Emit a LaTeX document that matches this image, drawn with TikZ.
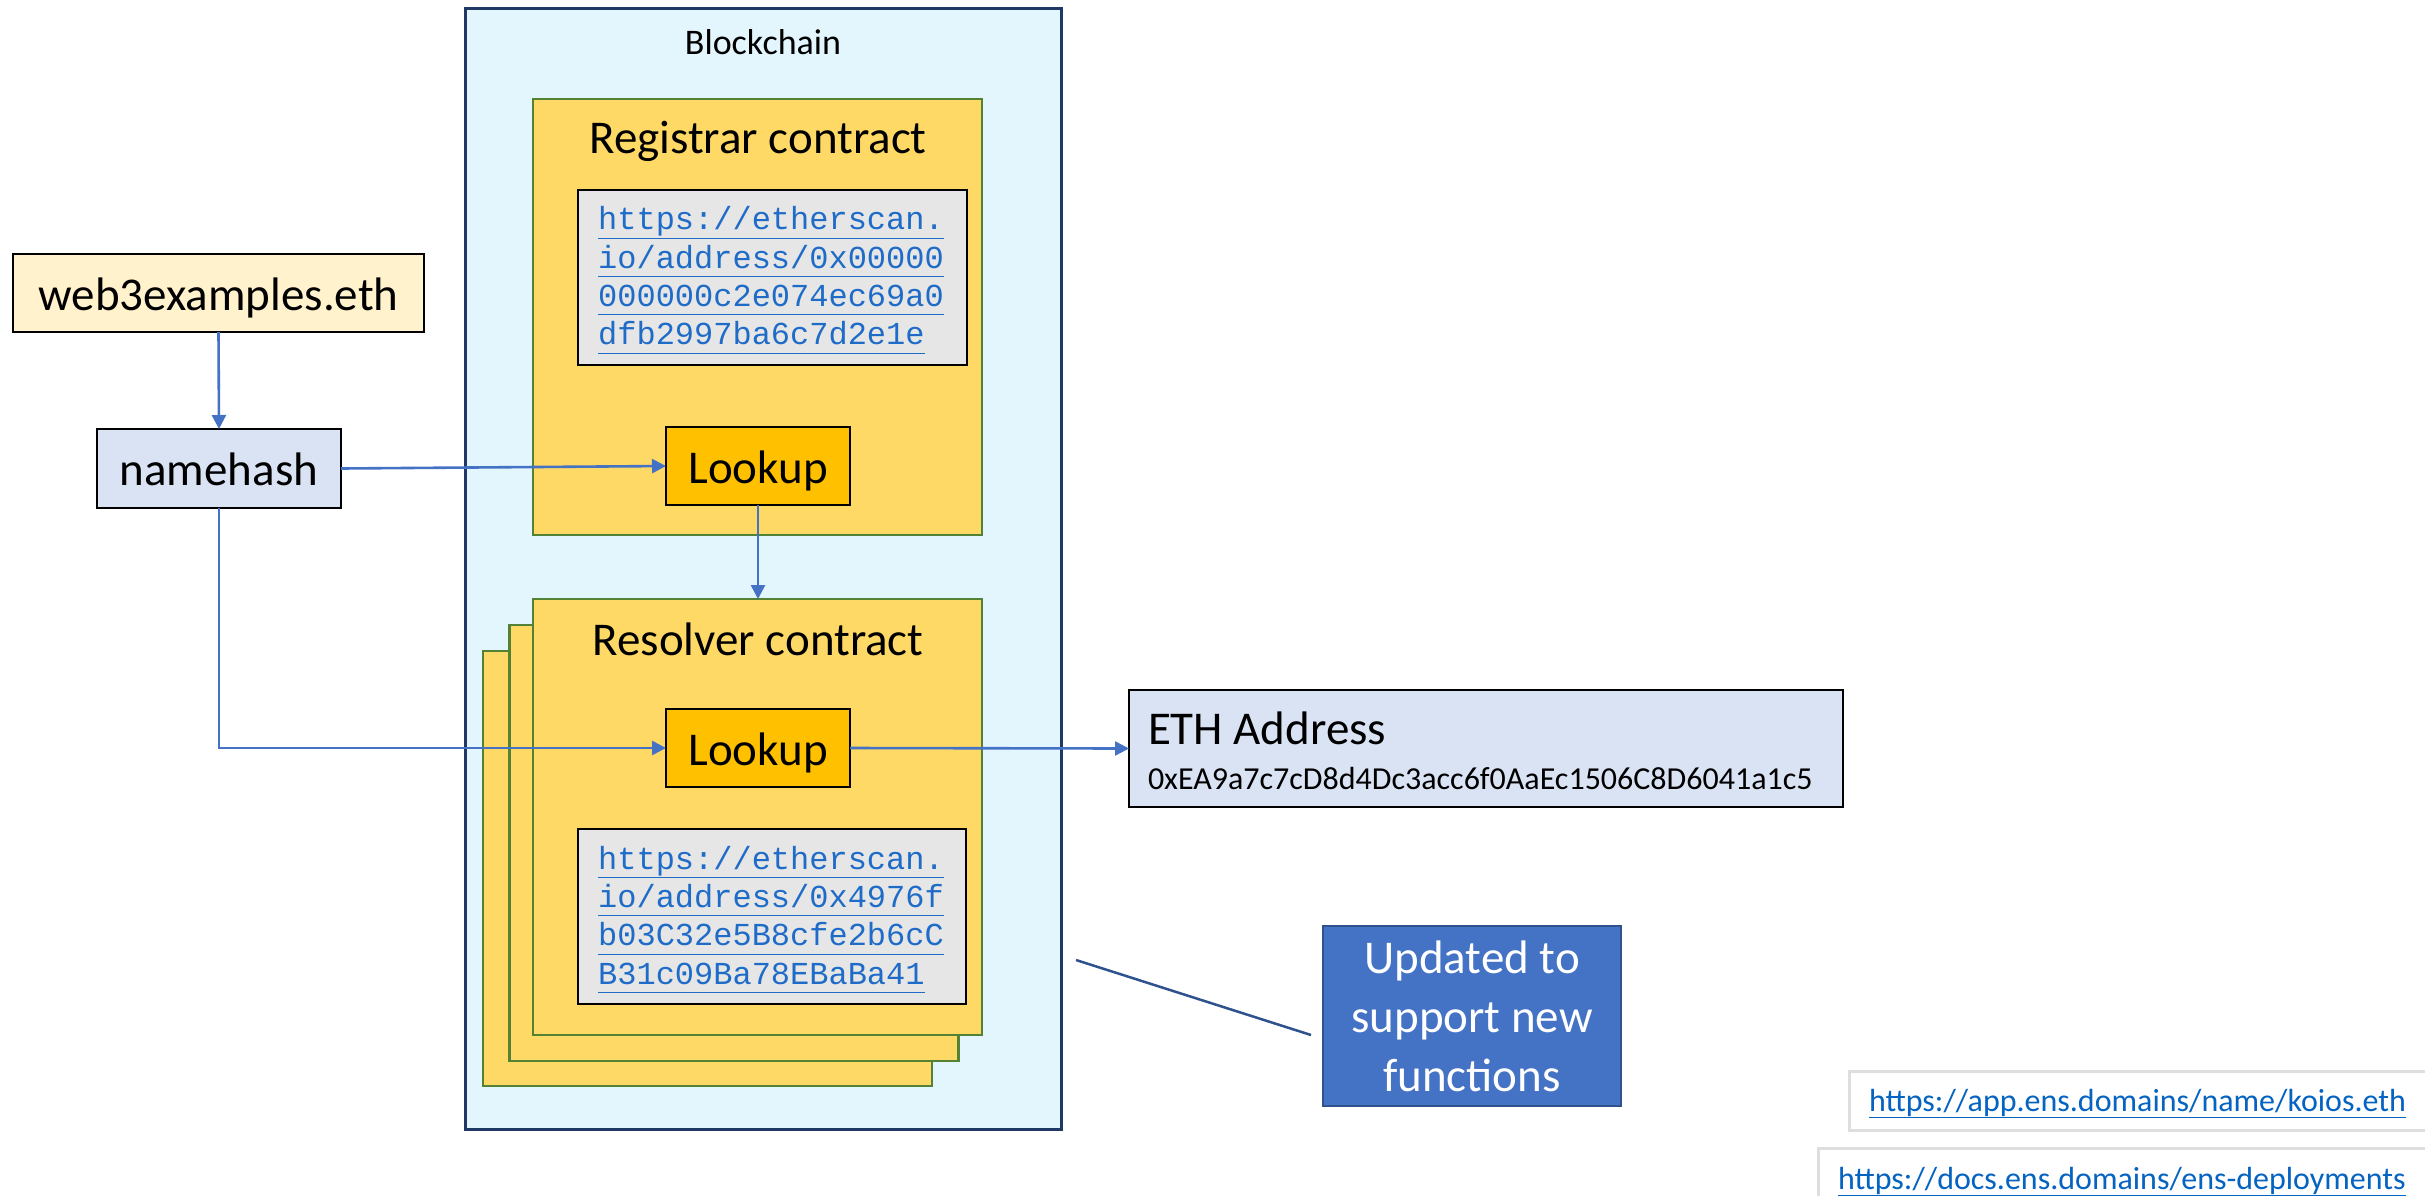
\documentclass[tikz,border=0pt]{standalone}
\usepackage{fontspec}
\setmainfont{Carlito}
\newfontfamily\urlmono{Liberation Mono}
\usetikzlibrary{arrows.meta}
\definecolor{bcfill}{HTML}{E3F5FD}
\definecolor{bcdraw}{HTML}{1F3864}
\definecolor{ctfill}{HTML}{FFD966}
\definecolor{ctdraw}{HTML}{548235}
\definecolor{urlfill}{HTML}{E6E6E6}
\definecolor{lkfill}{HTML}{FFC000}
\definecolor{namefill}{HTML}{FFF2CC}
\definecolor{hashfill}{HTML}{DAE3F3}
\definecolor{arrowblue}{HTML}{4472C4}
\definecolor{upddraw}{HTML}{2F528F}
\definecolor{linkblue}{HTML}{0563C1}
\definecolor{urlblue}{HTML}{1F6CC8}
\definecolor{lightframe}{HTML}{DEDEDE}
\begin{document}
\begin{tikzpicture}[x=1pt,y=-1pt,
  every node/.style={inner sep=0pt, outer sep=0pt},
  frame/.style={draw, rectangle, line width=2pt},
  contract/.style={frame, draw=ctdraw, line width=2.5pt, fill=ctfill, minimum width=449, minimum height=436},
  urlbox/.style={frame, draw=black, fill=urlfill, minimum width=389, minimum height=175},
  urltext/.style={align=left, text=urlblue, font=\urlmono\fontsize{32}{38.3}\selectfont},
  lookbox/.style={frame, fill=lkfill, minimum width=184, minimum height=78, big},
  big/.style={font=\fontsize{47}{56}\selectfont, text height=35pt, text depth=1pt},
  mid/.style={font=\fontsize{36}{43}\selectfont, text height=27pt, text depth=1pt},
  small/.style={font=\fontsize{32}{38}\selectfont, text height=24pt, text depth=1pt},
  linktext/.style={font=\fontsize{32}{38}\selectfont, text=linkblue},
  arr/.style={draw=arrowblue, line width=2.6pt, -{Triangle[length=14pt,width=14pt]}},
]
\clip (0,0) rectangle (2425,1195);
\fill[white] (0,0) rectangle (2425,1195);

% Blockchain container
\node[frame, draw=bcdraw, line width=3pt, fill=bcfill, minimum width=596, minimum height=1121] (bc) at (763,568.5) {};
\node[mid] (bclabel) at (763,41) {Blockchain};

% Registrar contract
\node[contract] (reg) at (757.5,317) {};
\node[big] (regtitle) at (758,136) {Registrar contract};
\node[urlbox] (regurl) at (772.5,277.5) {};
\node[urltext] (regurltext) at (771,280) {\underline{\vphantom{p}https://etherscan.}\\\underline{\vphantom{p}io/address/0x00000}\\\underline{\vphantom{p}000000c2e074ec69a0}\\\underline{\vphantom{p}dfb2997ba6c7d2e1e}};
\node[lookbox] (reglook) at (758,466) {Lookup};

% Resolver contracts (stack)
\node[contract, minimum height=435] (res3) at (707.5,868.5) {};
\node[contract] (res2) at (734,843) {};
\node[contract] (res1) at (757.5,817) {};
\node[big] (restitle) at (758,638) {Resolver contract};
\node[lookbox] (reslook) at (758,748) {Lookup};
\node[urlbox, minimum width=388] (resurl) at (772,916.5) {};
\node[urltext] (resurltext) at (771,919.5) {\underline{\vphantom{p}https://etherscan.}\\\underline{\vphantom{p}io/address/0x4976f}\\\underline{\vphantom{p}b03C32e5B8cfe2b6cC}\\\underline{\vphantom{p}B31c09Ba78EBaBa41}};

% Left side
\node[frame, fill=namefill, minimum width=411, minimum height=78, big] (web3) at (218.5,293) {web3examples.eth};
\node[frame, fill=hashfill, minimum width=244, minimum height=79, big] (namehash) at (219,468.5) {namehash};

% ETH Address
\node[frame, fill=hashfill, minimum width=714, minimum height=117] (eth) at (1486,748.5) {};
\node[big, anchor=west] (ethtitle) at (1148,727.5) {ETH Address};
\node[small, anchor=west] (ethhex) at (1148,777.5) {0xEA9a7c7cD8d4Dc3acc6f0AaEc1506C8D6041a1c5};

% Updated note
\node[frame, draw=upddraw, fill=arrowblue, minimum width=298, minimum height=180, align=center, text=white, font=\fontsize{47}{59}\selectfont] (upd) at (1472,1016) {Updated to\\support new\\functions};
\coordinate (n1) at (1076,960);
\coordinate (n2) at (1311,1035);
\draw[draw=upddraw, line width=2.5pt] (n1) -- (n2);

% Link boxes
\node[frame, draw=lightframe, line width=3pt, fill=white, minimum width=591, minimum height=59] (link1) at (2144.5,1100.5) {};
\node[linktext, anchor=base west] (link1text) at (1869,1111) {\underline{https://app.ens.domains/name/koios.eth}};
\node[frame, draw=lightframe, line width=3pt, fill=white, minimum width=622, minimum height=67] (link2) at (2129,1181.5) {};
\node[linktext, anchor=base west] (link2text) at (1838,1189) {\underline{https://docs.ens.domains/ens-deployments}};

% Connectors
\draw[arr] (web3.south) -- (namehash.north);
\draw[arr] (namehash.east) -- (reglook.west);
\draw[arr] (namehash.south) |- (reslook.west);
\draw[arr] (reglook.south) -- (reglook.south |- res1.north);
\draw[arr] (reslook.east) -- (eth.west);
\end{tikzpicture}
\end{document}
